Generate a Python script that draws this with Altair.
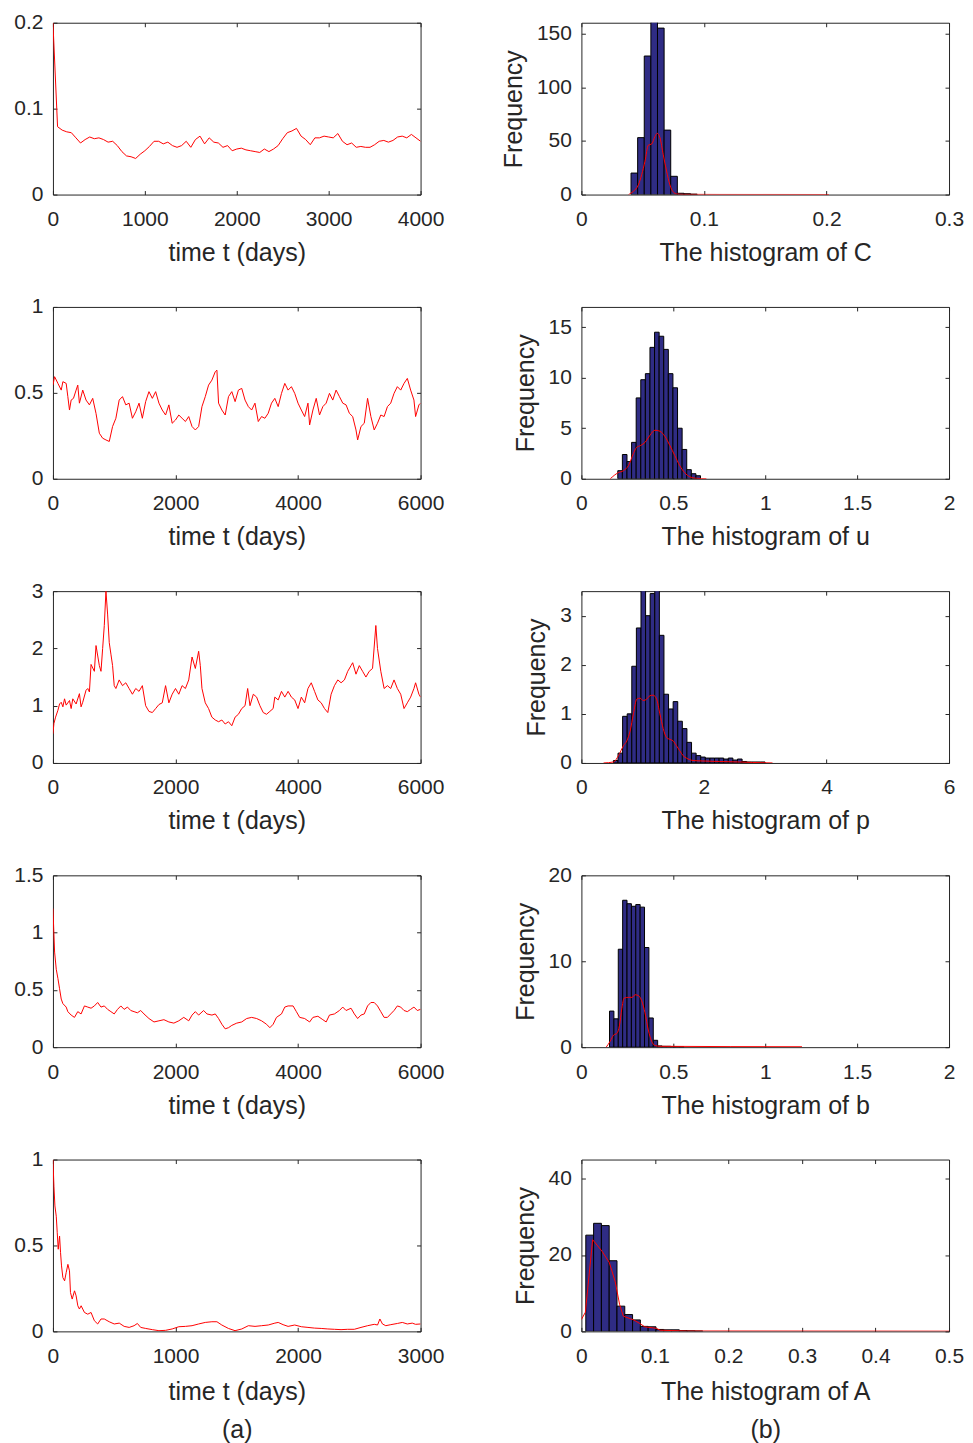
import altair as alt
import pandas as pd

# ---------------- time series ----------------
C_step = 50
C_vals = [0.200, 0.079, 0.075, 0.073, 0.072, 0.066, 0.060, 0.064, 0.067, 0.065,
          0.066, 0.064, 0.061, 0.062, 0.057, 0.050, 0.045, 0.044, 0.042, 0.047,
          0.051, 0.056, 0.062, 0.062, 0.059, 0.061, 0.057, 0.055, 0.057, 0.062,
          0.055, 0.064, 0.068, 0.059, 0.066, 0.061, 0.060, 0.055, 0.057, 0.051,
          0.053, 0.054, 0.052, 0.051, 0.050, 0.049, 0.053, 0.050, 0.053, 0.057,
          0.065, 0.072, 0.074, 0.077, 0.068, 0.064, 0.058, 0.066, 0.066, 0.068,
          0.067, 0.066, 0.071, 0.062, 0.058, 0.060, 0.055, 0.056, 0.055, 0.055,
          0.058, 0.062, 0.063, 0.061, 0.063, 0.067, 0.068, 0.066, 0.070, 0.066,
          0.062]

u_pts = [(0, 0.545), (27, 0.594), (81, 0.555), (135, 0.516), (162, 0.565), (216, 0.555),
         (243, 0.478), (270, 0.40), (297, 0.458), (335, 0.468), (378, 0.516), (405, 0.545),
         (432, 0.44), (486, 0.516), (540, 0.458), (595, 0.43), (649, 0.468), (703, 0.38),
         (757, 0.265), (811, 0.236), (865, 0.226), (919, 0.217), (973, 0.304), (1027, 0.352),
         (1081, 0.458), (1135, 0.478), (1189, 0.43), (1243, 0.44), (1297, 0.352), (1351, 0.39),
         (1405, 0.44), (1459, 0.352), (1513, 0.449), (1567, 0.507), (1622, 0.468), (1676, 0.507),
         (1730, 0.44), (1784, 0.40), (1838, 0.371), (1892, 0.43), (1946, 0.323), (2000, 0.342),
         (2054, 0.371), (2108, 0.352), (2162, 0.333), (2216, 0.362), (2270, 0.304), (2324, 0.284),
         (2378, 0.304), (2432, 0.42), (2486, 0.478), (2540, 0.545), (2594, 0.574), (2649, 0.623),
         (2676, 0.632), (2703, 0.44), (2757, 0.40), (2811, 0.371), (2865, 0.478), (2919, 0.507),
         (2973, 0.449), (3027, 0.516), (3081, 0.526), (3135, 0.458), (3189, 0.42), (3243, 0.40),
         (3297, 0.44), (3351, 0.333), (3405, 0.362), (3459, 0.352), (3513, 0.381), (3567, 0.44),
         (3621, 0.468), (3676, 0.42), (3730, 0.497), (3784, 0.555), (3838, 0.516), (3892, 0.536),
         (3946, 0.497), (4000, 0.44), (4054, 0.40), (4108, 0.362), (4162, 0.44), (4189, 0.313),
         (4243, 0.40), (4297, 0.468), (4351, 0.371), (4405, 0.42), (4459, 0.44), (4513, 0.497),
         (4567, 0.458), (4621, 0.516), (4676, 0.478), (4730, 0.44), (4784, 0.43), (4838, 0.381),
         (4892, 0.362), (4946, 0.284), (4973, 0.226), (5027, 0.304), (5081, 0.323), (5135, 0.468),
         (5189, 0.362), (5243, 0.284), (5297, 0.323), (5351, 0.371), (5405, 0.362), (5459, 0.42),
         (5513, 0.44), (5567, 0.497), (5621, 0.536), (5676, 0.516), (5730, 0.555), (5784, 0.584),
         (5838, 0.516), (5892, 0.458), (5919, 0.362), (5973, 0.43), (6000, 0.44)]

p_pts = [(0, 0.51), (16, 0.69), (43, 0.80), (81, 0.92), (108, 1.03), (135, 1.06), (162, 0.98),
         (189, 1.12), (216, 1.01), (270, 1.09), (297, 0.95), (324, 1.12), (378, 1.03), (432, 1.21),
         (459, 0.98), (486, 1.06), (540, 1.27), (568, 1.30), (595, 1.24), (622, 1.72), (676, 1.60),
         (703, 2.05), (757, 1.70), (784, 1.60), (811, 2.00), (838, 2.40), (865, 3.00), (892, 2.60),
         (919, 2.10), (946, 1.90), (973, 1.70), (1000, 1.35), (1027, 1.30), (1081, 1.45),
         (1135, 1.35), (1189, 1.40), (1243, 1.30), (1297, 1.20), (1351, 1.30), (1405, 1.25),
         (1459, 1.35), (1513, 1.00), (1567, 0.90), (1622, 0.88), (1676, 0.95), (1730, 1.02),
         (1784, 1.05), (1838, 1.35), (1892, 1.05), (1946, 1.20), (2000, 1.30), (2054, 1.20),
         (2108, 1.35), (2162, 1.30), (2216, 1.45), (2270, 1.85), (2324, 1.65), (2378, 1.95),
         (2405, 1.70), (2432, 1.30), (2486, 1.05), (2540, 0.95), (2594, 0.80), (2649, 0.75),
         (2703, 0.72), (2757, 0.75), (2811, 0.68), (2865, 0.72), (2919, 0.65), (2973, 0.80),
         (3027, 0.85), (3081, 0.95), (3135, 1.00), (3178, 1.30), (3216, 1.00), (3270, 1.20),
         (3324, 1.15), (3378, 1.00), (3432, 0.88), (3486, 0.85), (3540, 0.90), (3594, 0.95),
         (3621, 1.15), (3676, 1.10), (3730, 1.25), (3784, 1.15), (3838, 1.25), (3892, 1.15),
         (3946, 1.10), (4000, 0.95), (4054, 1.15), (4108, 1.05), (4162, 1.30), (4216, 1.40),
         (4270, 1.25), (4324, 1.10), (4378, 1.05), (4432, 0.95), (4486, 0.88), (4540, 1.20),
         (4594, 1.35), (4649, 1.45), (4703, 1.40), (4757, 1.45), (4811, 1.60), (4865, 1.70),
         (4892, 1.75), (4946, 1.55), (5000, 1.70), (5054, 1.60), (5108, 1.50), (5162, 1.60),
         (5216, 1.65), (5270, 2.40), (5297, 2.00), (5351, 1.60), (5405, 1.30), (5459, 1.35),
         (5513, 1.30), (5567, 1.45), (5621, 1.30), (5676, 1.20), (5730, 0.95), (5784, 1.05),
         (5838, 1.15), (5892, 1.30), (5919, 1.40), (5973, 1.20), (6000, 1.15)]

b_pts = [(0, 1.21), (27, 0.83), (54, 0.68), (81, 0.60), (108, 0.51), (135, 0.42), (162, 0.38),
         (216, 0.35), (243, 0.31), (297, 0.28), (351, 0.26), (405, 0.31), (459, 0.29), (514, 0.36),
         (568, 0.35), (622, 0.34), (676, 0.36), (730, 0.39), (784, 0.35), (838, 0.36), (892, 0.33),
         (946, 0.31), (1000, 0.29), (1054, 0.33), (1108, 0.36), (1162, 0.33), (1216, 0.35),
         (1270, 0.32), (1324, 0.31), (1378, 0.30), (1432, 0.32), (1486, 0.29), (1567, 0.25),
         (1649, 0.22), (1730, 0.23), (1811, 0.24), (1892, 0.22), (1973, 0.21), (2054, 0.23),
         (2135, 0.26), (2216, 0.23), (2270, 0.28), (2324, 0.31), (2378, 0.28), (2459, 0.32),
         (2513, 0.29), (2595, 0.28), (2649, 0.29), (2703, 0.25), (2757, 0.20), (2811, 0.16),
         (2865, 0.17), (2919, 0.19), (3000, 0.21), (3081, 0.22), (3162, 0.25), (3243, 0.26),
         (3324, 0.25), (3405, 0.23), (3486, 0.20), (3540, 0.17), (3594, 0.20), (3648, 0.26),
         (3730, 0.29), (3784, 0.35), (3838, 0.36), (3919, 0.36), (3973, 0.31), (4027, 0.26),
         (4108, 0.25), (4189, 0.22), (4243, 0.26), (4324, 0.27), (4405, 0.24), (4459, 0.22),
         (4513, 0.28), (4594, 0.29), (4676, 0.32), (4730, 0.35), (4784, 0.32), (4865, 0.34),
         (4919, 0.29), (4973, 0.25), (5027, 0.28), (5081, 0.29), (5135, 0.36), (5189, 0.39),
         (5243, 0.39), (5297, 0.36), (5351, 0.31), (5405, 0.26), (5459, 0.26), (5513, 0.29),
         (5567, 0.32), (5621, 0.36), (5676, 0.35), (5730, 0.32), (5784, 0.31), (5838, 0.33),
         (5892, 0.35), (5946, 0.32), (6000, 0.33)]

A_pts = [(0, 1.0), (8, 0.845), (16, 0.73), (27, 0.67), (35, 0.574), (43, 0.478), (54, 0.555),
         (62, 0.458), (70, 0.381), (81, 0.313), (95, 0.294), (108, 0.342), (122, 0.39), (135, 0.352),
         (143, 0.226), (157, 0.188), (176, 0.236), (189, 0.207), (203, 0.149), (216, 0.13),
         (230, 0.149), (257, 0.11), (284, 0.10), (311, 0.11), (338, 0.062), (365, 0.043),
         (392, 0.072), (419, 0.072), (459, 0.056), (500, 0.043), (541, 0.048), (581, 0.029),
         (622, 0.023), (662, 0.033), (689, 0.046), (716, 0.023), (757, 0.017), (811, 0.010),
         (865, 0.004), (919, 0.006), (973, 0.014), (1027, 0.027), (1081, 0.029), (1135, 0.033),
         (1189, 0.043), (1243, 0.052), (1297, 0.056), (1338, 0.056), (1378, 0.037), (1432, 0.017),
         (1486, 0.004), (1541, 0.014), (1595, 0.033), (1649, 0.029), (1703, 0.033), (1757, 0.037),
         (1811, 0.048), (1838, 0.052), (1878, 0.039), (1919, 0.029), (1973, 0.037), (2027, 0.027),
         (2081, 0.023), (2135, 0.019), (2189, 0.017), (2243, 0.014), (2297, 0.012), (2351, 0.010),
         (2405, 0.012), (2459, 0.012), (2514, 0.023), (2568, 0.033), (2622, 0.041), (2649, 0.037),
         (2668, 0.072), (2689, 0.043), (2716, 0.033), (2757, 0.039), (2811, 0.046), (2851, 0.052),
         (2892, 0.043), (2932, 0.048), (2959, 0.041), (3000, 0.043)]

# ---------------- histograms (bin start, bin width, bar heights) ----------------
C_hist_start, C_hist_width = 0.0405, 0.0054
C_hist = [20, 53, 129, 163, 155, 60, 17, 1.2, 0.8, 0.4]
u_hist_start, u_hist_width = 0.198, 0.025
u_hist = [0.8, 2.4, 1.7, 3.6, 8.0, 9.8, 10.4, 13.0, 14.5, 14.1, 12.8, 10.4, 9.0, 5.0, 2.9, 0.9, 0.5, 0.3]
p_hist_start, p_hist_width = 0.5225, 0.075
p_hist = [0.05, 0.2, 0.95, 1.0, 1.97, 2.75, 3.6, 3.0, 3.45, 3.6, 2.6, 1.4, 1.1, 1.25, 0.85, 0.7,
          0.42, 0.2, 0.15, 0.12, 0.1, 0.1, 0.1, 0.1, 0.08, 0.1, 0.06, 0.08, 0.03, 0.02, 0.02, 0.02, 0.02]
b_hist_start, b_hist_width = 0.153, 0.0238
b_hist = [4.2, 3.3, 11.4, 17.1, 16.7, 16.4, 16.6, 16.3, 11.6, 3.4, 0.8, 0.15, 0.1, 0.1, 0.08, 0.06, 0.05]
A_hist_start, A_hist_width = 0.006, 0.0106
A_hist = [25.2, 28.3, 27.7, 18.5, 6.6, 4.4, 3.0, 1.3, 1.2, 0.5, 0.4, 0.4, 0.2, 0.15, 0.1]

# density curves (x, value)
C_curve = [(0.0384, 0), (0.0424, 3), (0.0465, 9), (0.0492, 18.6), (0.0519, 31), (0.0546, 46),
           (0.0573, 47), (0.0600, 54), (0.0619, 57), (0.0641, 53), (0.0668, 37), (0.0695, 22),
           (0.0722, 9), (0.0749, 2.5), (0.0776, 0.6), (0.083, 0.2), (0.113, 0.1), (0.202, 0.05)]
u_curve = [(0.157, 0), (0.2, 0.6), (0.229, 0.8), (0.256, 1.3), (0.283, 2.5), (0.30, 3.1),
           (0.323, 3.3), (0.346, 3.6), (0.373, 4.3), (0.40, 4.8), (0.427, 4.7), (0.454, 4.2),
           (0.481, 3.3), (0.508, 2.3), (0.535, 1.3), (0.562, 0.6), (0.589, 0.2), (0.625, 0.05), (0.68, 0)]
p_curve = [(0.362, 0), (0.524, 0.02), (0.605, 0.15), (0.686, 0.35), (0.741, 0.45), (0.795, 0.65),
           (0.849, 1.0), (0.903, 1.3), (0.957, 1.32), (1.011, 1.27), (1.065, 1.30), (1.119, 1.37),
           (1.173, 1.38), (1.227, 1.30), (1.281, 1.0), (1.335, 0.7), (1.389, 0.52), (1.443, 0.48),
           (1.497, 0.45), (1.551, 0.35), (1.605, 0.25), (1.659, 0.15), (1.714, 0.1), (1.822, 0.05),
           (1.984, 0.04), (2.254, 0.03), (2.578, 0.02), (2.795, 0.01), (3.119, 0)]
b_curve = [(0.135, 0), (0.157, 0.7), (0.175, 1.4), (0.193, 1.6), (0.207, 2.5), (0.22, 4.5),
           (0.232, 5.7), (0.256, 5.8), (0.277, 5.8), (0.292, 6.1), (0.31, 6.0), (0.328, 5.4),
           (0.346, 4.0), (0.364, 2.0), (0.382, 0.7), (0.40, 0.2), (0.427, 0.1), (1.2, 0.05)]
A_curve = [(0.0, 3.1), (0.0054, 5), (0.0153, 24), (0.028, 21), (0.038, 18), (0.046, 13),
           (0.052, 7), (0.057, 4), (0.071, 3), (0.08, 2), (0.086, 1.2), (0.102, 0.8),
           (0.107, 0.3), (0.143, 0.1), (0.5, 0.05)]

# ---------------- styling ----------------
FONT = "Liberation Sans"
INK = "#262626"
BAR = "#2f2c84"
RED = "#ff0000"
W, H = 368, 172
TICK = 4


def axis_main(orient, values, title=None, multiline=False):
    kw = dict(orient=orient, values=values, labelExpr="'' + datum.value", offset=-TICK,
              tickSize=TICK, domain=False, grid=False, labelFlush=False, labelOverlap=False,
              labelPadding=10 if orient == "left" else 14,
              titlePadding=10 if orient == "left" else 11)
    kw["title"] = title
    if multiline:
        kw["titleLineHeight"] = 38
        kw["titlePadding"] = 13
    return alt.Axis(**kw)


def axis_frame(orient, values):
    return alt.Axis(orient=orient, values=values, labels=False, title=None, offset=-TICK,
                    tickSize=TICK, domain=False, grid=False)


def ts_panel(t, v, xmax, xticks, ymax, yticks, xtitle, multiline=False):
    df = pd.DataFrame({"t": t, "v": v})
    xs = alt.Scale(domain=[0, xmax], nice=False, zero=False)
    ys = alt.Scale(domain=[0, ymax], nice=False, zero=False)
    line = alt.Chart(df).mark_line(color=RED, strokeWidth=1, clip=True).encode(
        x=alt.X("t:Q", scale=xs, axis=axis_main("bottom", xticks, xtitle, multiline)),
        y=alt.Y("v:Q", scale=ys, axis=axis_main("left", yticks)),
    )
    frame = alt.Chart(df).mark_line(opacity=0).encode(
        x=alt.X("t:Q", scale=xs, axis=axis_frame("top", xticks)),
        y=alt.Y("v:Q", scale=ys, axis=axis_frame("right", yticks)),
    )
    return alt.layer(line, frame).resolve_axis(x="independent", y="independent").properties(
        width=W, height=H)


def hist_panel(start, width, heights, curve, xmax, xticks, ymax, yticks, xtitle,
               interp="monotone", multiline=False):
    x0 = [start + i * width for i in range(len(heights))]
    bars = pd.DataFrame({"x0": x0, "x1": [a + width for a in x0], "h": heights,
                         "base": [0] * len(heights)})
    cdf = pd.DataFrame({"x": [c[0] for c in curve], "y": [c[1] for c in curve]})
    xs = alt.Scale(domain=[0, xmax], nice=False, zero=False)
    ys = alt.Scale(domain=[0, ymax], nice=False, zero=False)
    b = alt.Chart(bars).mark_rect(color=BAR, stroke="#000000", strokeWidth=1, clip=True).encode(
        x=alt.X("x0:Q", scale=xs, axis=axis_main("bottom", xticks, xtitle, multiline)),
        x2=alt.X2("x1:Q"),
        y=alt.Y("h:Q", scale=ys, axis=axis_main("left", yticks, "Frequency")),
        y2=alt.Y2("base:Q"),
    )
    c = alt.Chart(cdf).mark_line(color=RED, strokeWidth=1, clip=True, interpolate=interp).encode(
        x=alt.X("x:Q", scale=xs, axis=None),
        y=alt.Y("y:Q", scale=ys, axis=None),
    )
    frame = alt.Chart(cdf).mark_line(opacity=0).encode(
        x=alt.X("x:Q", scale=xs, axis=axis_frame("top", xticks)),
        y=alt.Y("y:Q", scale=ys, axis=axis_frame("right", yticks)),
    )
    return alt.layer(b, c, frame).resolve_axis(x="independent", y="independent").properties(
        width=W, height=H)


def unzip(pts):
    return [p[0] for p in pts], [p[1] for p in pts]


tt = "time t (days)"
panels = [
    ts_panel([C_step * i for i in range(len(C_vals))], C_vals, 4000, [0, 1000, 2000, 3000, 4000],
             0.2, [0, 0.1, 0.2], tt),
    hist_panel(C_hist_start, C_hist_width, C_hist, C_curve, 0.3, [0, 0.1, 0.2, 0.3], 160,
               [0, 50, 100, 150], "The histogram of C"),
    ts_panel(*unzip(u_pts), 6000, [0, 2000, 4000, 6000], 1, [0, 0.5, 1], tt),
    hist_panel(u_hist_start, u_hist_width, u_hist, u_curve, 2, [0, 0.5, 1, 1.5, 2], 17,
               [0, 5, 10, 15], "The histogram of u"),
    ts_panel(*unzip(p_pts), 6000, [0, 2000, 4000, 6000], 3, [0, 1, 2, 3], tt),
    hist_panel(p_hist_start, p_hist_width, p_hist, p_curve, 6, [0, 2, 4, 6], 3.5,
               [0, 1, 2, 3], "The histogram of p"),
    ts_panel(*unzip(b_pts), 6000, [0, 2000, 4000, 6000], 1.5, [0, 0.5, 1, 1.5], tt),
    hist_panel(b_hist_start, b_hist_width, b_hist, b_curve, 2, [0, 0.5, 1, 1.5, 2], 20,
               [0, 10, 20], "The histogram of b"),
    ts_panel(*unzip(A_pts), 3000, [0, 1000, 2000, 3000], 1, [0, 0.5, 1], [tt, "(a)"], True),
    hist_panel(A_hist_start, A_hist_width, A_hist, A_curve, 0.5, [0, 0.1, 0.2, 0.3, 0.4, 0.5], 45,
               [0, 20, 40], ["The histogram of A", "(b)"], interp="linear", multiline=True),
]

chart = alt.concat(*panels, columns=2, spacing={"row": 112.5, "column": 161}, bounds="flush").properties(
    padding={"left": 5, "top": 2, "right": 0, "bottom": 0}, background="white"
).configure_view(stroke=INK, strokeWidth=1).configure_axis(
    labelFont=FONT, labelFontSize=21, labelColor=INK, titleFont=FONT, titleFontSize=25,
    titleFontWeight="normal", titleColor=INK, tickColor=INK, tickWidth=1
)

chart.save("out.html", embed_options={"renderer": "svg", "actions": False})
